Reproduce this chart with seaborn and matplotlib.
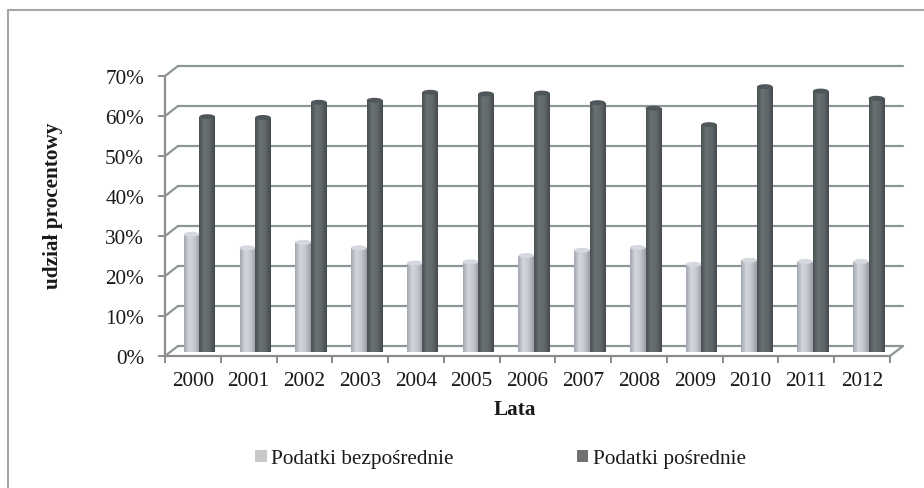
import numpy as np
import pandas as pd
import seaborn as sns
import matplotlib
matplotlib.use("Agg")
import matplotlib.pyplot as plt
from matplotlib import transforms
from matplotlib.patches import Rectangle, Ellipse
from matplotlib.lines import Line2D
from matplotlib.colors import LinearSegmentedColormap

# ---- data ----
years = ["2000", "2001", "2002", "2003", "2004", "2005", "2006",
         "2007", "2008", "2009", "2010", "2011", "2012"]
direct = [29.3, 25.9, 27.3, 25.9, 22.1, 22.4, 24.0, 25.3, 26.0, 21.8, 22.8, 22.5, 22.5]
indirect = [58.7, 58.5, 62.3, 62.8, 64.8, 64.4, 64.6, 62.2, 60.8, 56.7, 66.2, 65.1, 63.3]
series = ["Podatki bezpośrednie", "Podatki pośrednie"]
yticks = [0, 10, 20, 30, 40, 50, 60, 70]
ytick_labels = ["0%", "10%", "20%", "30%", "40%", "50%", "60%", "70%"]
x_title = "Lata"
y_title = "udział procentowy"

df = pd.DataFrame({
    "Rok": years * 2,
    "val": direct + indirect,
    "seria": [series[0]] * len(years) + [series[1]] * len(years),
})

sns.set_theme(style="white")
plt.rcParams["font.family"] = ["Liberation Serif", "DejaVu Serif"]
FS = 15.3

W, H, DPI = 924, 489, 100
fig = plt.figure(figsize=(W / DPI, H / DPI), dpi=DPI)
fig.patch.set_facecolor("white")

ax = fig.add_axes([165 / W, (H - 357) / H, (890 - 165) / W, 280 / H])
light_c = "#c2c5cc"
dark_c = "#5e6567"
sns.barplot(data=df, x="Rok", y="val", hue="seria", palette=[light_c, dark_c],
            width=0.56, saturation=1, ax=ax, legend=False, linewidth=0, zorder=3)
ax.set_xlim(-0.5, len(years) - 0.5)
ax.set_ylim(0, 70)
ax.set_facecolor("none")
ax.grid(False)


def off(dx, dy):
    return ax.transData + transforms.ScaledTranslation(dx / DPI, dy / DPI, fig.dpi_scale_trans)


grid_c = "#8d9597"
axis_c = "#8c8c8c"
# back wall gridlines
for t in yticks:
    ax.plot([-0.5, len(years) - 0.5], [t, t], transform=off(13, 10), color=grid_c,
            lw=1.6, clip_on=False, zorder=1)
# diagonals on the left side wall and right floor edge
ident = transforms.IdentityTransform()
pts = [(-0.5, t) for t in yticks] + [(len(years) - 0.5, 0)]
for (xv, yv) in pts:
    p = ax.transData.transform((xv, yv))
    fig.add_artist(Line2D([p[0], p[0] + 13], [p[1], p[1] + 10], transform=ident,
                          color=grid_c, lw=1.6, zorder=1))

# bars: shift to mid-depth and add cylinder shading
bar_off = off(6.5, 4.5)
light_cmap = LinearSegmentedColormap.from_list("l", ["#a3a7af", "#d3d6dc", "#c3c6cd", "#9a9ea6"])
dark_cmap = LinearSegmentedColormap.from_list("d", ["#4a5153", "#6b7274", "#60676a", "#454b4d"])
grad = np.linspace(0, 1, 64).reshape(1, -1)
bars = list(ax.patches)
n = len(years)
for i, p in enumerate(bars):
    p.set_transform(bar_off)
    cmap = light_cmap if i < n else dark_cmap
    x0, w, h = p.get_x(), p.get_width(), p.get_height()
    im = ax.imshow(grad, extent=(x0, x0 + w, 0, h), aspect="auto", cmap=cmap,
                   zorder=3 + (i >= n), interpolation="bilinear")
    im.set_transform(bar_off)
    im.set_clip_path(p)
    p.set_zorder(3 + (i >= n))
ax.set_xlim(-0.5, len(years) - 0.5)
ax.set_ylim(0, 70)

# cylinder tops
for i, p in enumerate(bars):
    x0, w, h = p.get_x(), p.get_width(), p.get_height()
    a = bar_off.transform((x0, h))
    b = bar_off.transform((x0 + w, h))
    cx, cy = (a[0] + b[0]) / 2, a[1]
    e = Ellipse((cx, cy), width=b[0] - a[0], height=5, transform=ident,
                facecolor="#d5d8de" if i < n else "#50575a", edgecolor="none", zorder=6)
    fig.add_artist(e)

# spines and ticks
for s in ["top", "right"]:
    ax.spines[s].set_visible(False)
for s in ["left", "bottom"]:
    ax.spines[s].set_color(axis_c)
    ax.spines[s].set_linewidth(1.6)
    ax.spines[s].set_zorder(2)

ax.set_yticks(yticks)
ax.set_yticklabels(ytick_labels)
ax.tick_params(axis="y", direction="out", length=5, width=1.4, color=axis_c,
               labelsize=FS, pad=10, labelcolor="#1a1a1a", left=True)
ax.set_xticks(range(n))
ax.set_xticklabels(years)
ax.set_xticks([k - 0.5 for k in range(n + 1)], minor=True)
ax.tick_params(axis="x", which="major", length=0, labelsize=FS, pad=11, labelcolor="#1a1a1a")
ax.tick_params(axis="x", which="minor", direction="out", length=5, width=1.4,
               color=axis_c, bottom=True)
ax.set_xlabel("")
ax.set_ylabel("")

fig.text(53 / W, 1 - 206 / H, y_title, rotation=90, ha="center", va="center",
         fontsize=FS, fontweight="bold", color="#1a1a1a")
fig.text(515 / W, 1 - 410 / H, x_title, ha="center", va="center",
         fontsize=FS, fontweight="bold", color="#1a1a1a")

# legend
handles = [Rectangle((0, 0), 1, 1, facecolor="#c8c8c8", edgecolor="none"),
           Rectangle((0, 0), 1, 1, facecolor="#707072", edgecolor="none")]
fig.legend(handles=handles, labels=series, loc="center left",
           bbox_to_anchor=(255 / W, 1 - 460 / H), ncol=2, frameon=False,
           handlelength=0.55, handleheight=0.55, handletextpad=0.2,
           columnspacing=5.8, borderpad=0, borderaxespad=0, fontsize=FS,
           labelcolor="#1a1a1a")

# outer frame (partially visible)
frame_c = "#a6a6a6"
fig.add_artist(Line2D([8, 8], [0, H - 11], transform=ident, color=frame_c, lw=1.5))
fig.add_artist(Line2D([8, W], [H - 11, H - 11], transform=ident, color=frame_c, lw=1.5))

fig.savefig("out.png", dpi=DPI)
